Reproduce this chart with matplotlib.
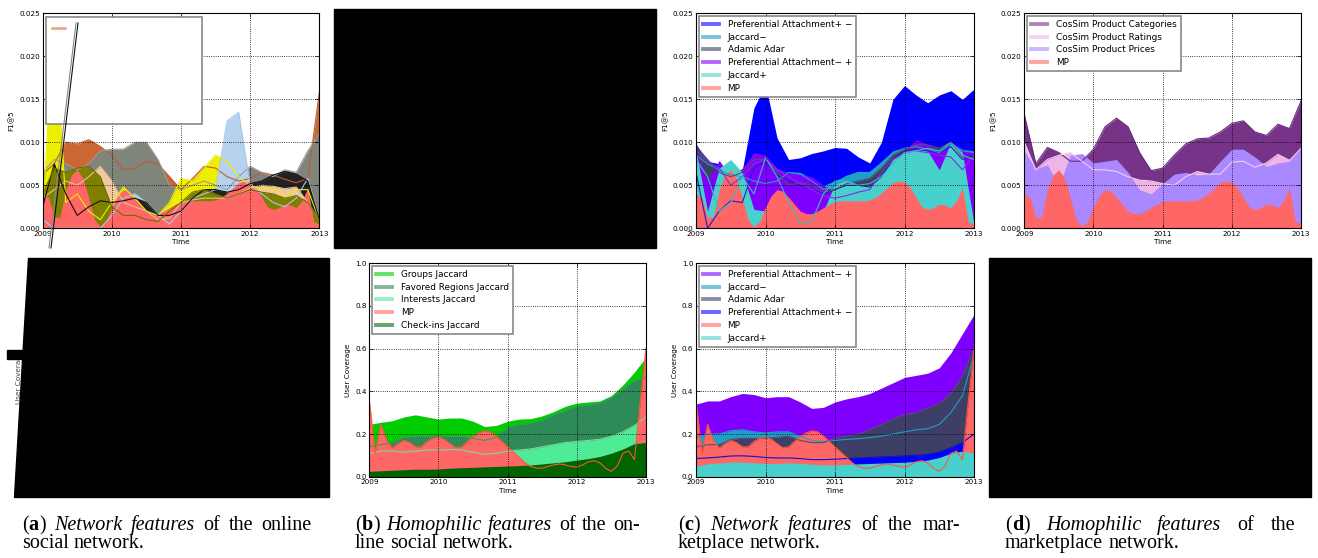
import numpy as np
import matplotlib
matplotlib.use('Agg')
import matplotlib.pyplot as plt
from matplotlib.lines import Line2D
from matplotlib.patches import Polygon, Rectangle
import matplotlib.transforms as mtransforms

# time grids: two-monthly and monthly samples 2009..2013
t2 = 2009 + np.arange(25) / 6.0
t1 = 2009 + np.arange(49) / 12.0

# MP baseline (monthly), F1@5 and user coverage
mp_f1 = [0.0040, 0.0036, 0.0013, 0.0013, 0.0045, 0.0062, 0.0068, 0.0058, 0.0035, 0.0010, 0.0002, 0.0008,
         0.0025, 0.0038, 0.0045, 0.0043, 0.0036, 0.0028, 0.0020, 0.0017, 0.0017, 0.0020, 0.0024, 0.0028,
         0.0031, 0.0032, 0.0032, 0.0032, 0.0032, 0.0032, 0.0033, 0.0036, 0.0041, 0.0047, 0.0053, 0.0055,
         0.0054, 0.0047, 0.0036, 0.0025, 0.0022, 0.0024, 0.0028, 0.0027, 0.0024, 0.0032, 0.0047, 0.0008,
         0.0005]
mp_cov = [0.36, 0.11, 0.245, 0.17, 0.135, 0.155, 0.17, 0.16, 0.14, 0.14, 0.165, 0.18,
          0.185, 0.175, 0.155, 0.135, 0.14, 0.165, 0.19, 0.205, 0.215, 0.21, 0.19, 0.165,
          0.14, 0.115, 0.09, 0.065, 0.048, 0.04, 0.04, 0.048, 0.055, 0.06, 0.055, 0.048,
          0.045, 0.055, 0.07, 0.075, 0.065, 0.04, 0.025, 0.05, 0.11, 0.12, 0.08, 0.35,
          0.60]

# (a) network features, online social network (F1@5)
a_brown = [0.0063, 0.0075, 0.0100, 0.0098, 0.0103, 0.0095, 0.0085, 0.0068, 0.0070, 0.0078, 0.0075, 0.0060,
           0.0045, 0.0058, 0.0072, 0.0070, 0.0060, 0.0055, 0.0058, 0.0065, 0.0062, 0.0057, 0.0053, 0.0058, 0.0158]
a_gray = [0.0065, 0.0080, 0.0075, 0.0068, 0.0075, 0.0090, 0.0092, 0.0092, 0.0100, 0.0100, 0.0080, 0.0050,
          0.0045, 0.0050, 0.0055, 0.0050, 0.0045, 0.0060, 0.0072, 0.0065, 0.0060, 0.0068, 0.0065, 0.0090, 0.0110]
a_yellow = [0.0020, 0.0245, 0.0030, 0.0040, 0.0020, 0.0010, 0.0030, 0.0048, 0.0035, 0.0020, 0.0015, 0.0030,
            0.0058, 0.0055, 0.0070, 0.0085, 0.0078, 0.0060, 0.0050, 0.0045, 0.0048, 0.0035, 0.0045, 0.0045, 0.0010]
a_lblue = [0.0010, 0.0000, 0.0000, 0.0000, 0.0000, 0.0000, 0.0015, 0.0035, 0.0040, 0.0030, 0.0015, 0.0005,
           0.0020, 0.0035, 0.0040, 0.0045, 0.0125, 0.0135, 0.0050, 0.0040, 0.0030, 0.0025, 0.0035, 0.0058, 0.0010]
a_black = [0.0025, 0.0075, 0.0040, 0.0015, 0.0025, 0.0032, 0.0030, 0.0032, 0.0035, 0.0030, 0.0015, 0.0015,
           0.0020, 0.0035, 0.0045, 0.0045, 0.0042, 0.0045, 0.0052, 0.0055, 0.0062, 0.0066, 0.0063, 0.0055, 0.0010]
a_peach = [0.0035, 0.0045, 0.0055, 0.0050, 0.0060, 0.0072, 0.0055, 0.0030, 0.0025, 0.0020, 0.0010, 0.0012,
           0.0030, 0.0033, 0.0035, 0.0035, 0.0035, 0.0040, 0.0047, 0.0050, 0.0049, 0.0046, 0.0048, 0.0030, 0.0010]
a_olive = [0.0040, 0.0070, 0.0065, 0.0070, 0.0072, 0.0060, 0.0025, 0.0015, 0.0015, 0.0010, 0.0008, 0.0020,
           0.0030, 0.0042, 0.0045, 0.0040, 0.0035, 0.0040, 0.0045, 0.0042, 0.0040, 0.0035, 0.0038, 0.0030, 0.0010]

# (c, top) network features, marketplace (F1@5)
c_pa_pm = [0.0098, 0.0078, 0.0075, 0.0068, 0.0068, 0.0140, 0.0167, 0.0105, 0.0080, 0.0082, 0.0087, 0.0090,
           0.0094, 0.0093, 0.0083, 0.0076, 0.0100, 0.0150, 0.0166, 0.0155, 0.0146, 0.0155, 0.0160, 0.0150, 0.0162]
c_jac_m = [0.0090, 0.0075, 0.0070, 0.0065, 0.0065, 0.0060, 0.0060, 0.0062, 0.0066, 0.0065, 0.0058, 0.0050,
           0.0055, 0.0062, 0.0066, 0.0066, 0.0078, 0.0090, 0.0094, 0.0097, 0.0095, 0.0090, 0.0100, 0.0092, 0.0090]
c_aa = [0.0095, 0.0080, 0.0065, 0.0060, 0.0065, 0.0080, 0.0080, 0.0065, 0.0050, 0.0053, 0.0050, 0.0042,
        0.0045, 0.0052, 0.0055, 0.0058, 0.0070, 0.0085, 0.0092, 0.0097, 0.0097, 0.0093, 0.0100, 0.0083, 0.0082]
c_pa_mp = [0.0090, 0.0055, 0.0079, 0.0060, 0.0070, 0.0088, 0.0085, 0.0070, 0.0065, 0.0063, 0.0060, 0.0050,
           0.0042, 0.0045, 0.0045, 0.0040, 0.0058, 0.0080, 0.0090, 0.0103, 0.0098, 0.0088, 0.0100, 0.0092, 0.0088]
c_jac_p = [0.0090, 0.0020, 0.0070, 0.0080, 0.0065, 0.0022, 0.0020, 0.0035, 0.0030, 0.0010, 0.0005, 0.0020,
           0.0052, 0.0055, 0.0050, 0.0050, 0.0060, 0.0080, 0.0088, 0.0092, 0.0090, 0.0068, 0.0100, 0.0088, 0.0005]
# mean lines drawn over the bands
c_line_pa_pm = [0.0065, 0.0000, 0.0020, 0.0032, 0.0030, 0.0070, 0.0078, 0.0062, 0.0055, 0.0050, 0.0045, 0.0040,
                0.0045, 0.0050, 0.0050, 0.0048, 0.0060, 0.0080, 0.0090, 0.0092, 0.0090, 0.0088, 0.0095, 0.0080, 0.0085]
c_line_jac_m = [0.0085, 0.0075, 0.0068, 0.0062, 0.0060, 0.0055, 0.0052, 0.0055, 0.0065, 0.0063, 0.0055, 0.0045,
                0.0050, 0.0060, 0.0065, 0.0065, 0.0075, 0.0088, 0.0093, 0.0095, 0.0092, 0.0088, 0.0098, 0.0090, 0.0088]
c_line_pa_mp = [0.0090, 0.0078, 0.0070, 0.0050, 0.0060, 0.0075, 0.0080, 0.0068, 0.0060, 0.0052, 0.0045, 0.0038,
                0.0035, 0.0038, 0.0042, 0.0045, 0.0065, 0.0080, 0.0088, 0.0090, 0.0088, 0.0085, 0.0083, 0.0068, 0.0085]
c_line_jac_p = [0.0080, 0.0060, 0.0020, 0.0030, 0.0060, 0.0040, 0.0082, 0.0060, 0.0030, 0.0005, 0.0008, 0.0040,
                0.0055, 0.0055, 0.0050, 0.0052, 0.0060, 0.0075, 0.0088, 0.0090, 0.0093, 0.0090, 0.0100, 0.0085, 0.0080]

# (d, top) homophilic features, marketplace (F1@5)
d_cat = [0.0132, 0.0075, 0.0094, 0.0088, 0.0078, 0.0078, 0.0092, 0.0118, 0.0128, 0.0118, 0.0088, 0.0067,
         0.0070, 0.0085, 0.0098, 0.0104, 0.0105, 0.0112, 0.0122, 0.0125, 0.0112, 0.0108, 0.0121, 0.0116, 0.0148]
d_rat = [0.0100, 0.0068, 0.0080, 0.0085, 0.0088, 0.0078, 0.0068, 0.0068, 0.0066, 0.0060, 0.0056, 0.0055,
         0.0052, 0.0050, 0.0060, 0.0066, 0.0063, 0.0063, 0.0077, 0.0078, 0.0071, 0.0076, 0.0086, 0.0079, 0.0093]
d_pri = [0.0090, 0.0069, 0.0074, 0.0050, 0.0085, 0.0087, 0.0076, 0.0078, 0.0080, 0.0065, 0.0045, 0.0040,
         0.0052, 0.0063, 0.0065, 0.0062, 0.0063, 0.0078, 0.0092, 0.0092, 0.0083, 0.0072, 0.0076, 0.0078, 0.0094]

# (b, bottom) homophilic features, online social network (user coverage)
b_groups = [0.245, 0.255, 0.262, 0.28, 0.29, 0.28, 0.27, 0.275, 0.275, 0.26, 0.235, 0.24,
            0.26, 0.27, 0.272, 0.285, 0.305, 0.33, 0.345, 0.35, 0.355, 0.38, 0.43, 0.49, 0.56]
b_regions = [0.14, 0.15, 0.16, 0.185, 0.19, 0.19, 0.19, 0.19, 0.19, 0.18, 0.17, 0.185,
             0.23, 0.245, 0.25, 0.265, 0.29, 0.31, 0.33, 0.335, 0.345, 0.37, 0.41, 0.45, 0.465]
b_interests = [0.11, 0.12, 0.12, 0.115, 0.12, 0.125, 0.125, 0.127, 0.125, 0.115, 0.105, 0.11,
               0.12, 0.125, 0.13, 0.14, 0.15, 0.16, 0.165, 0.17, 0.175, 0.19, 0.21, 0.24, 0.28]
b_checkins = [0.025, 0.028, 0.03, 0.033, 0.035, 0.035, 0.036, 0.04, 0.042, 0.044, 0.046, 0.048,
              0.05, 0.052, 0.055, 0.06, 0.065, 0.07, 0.078, 0.085, 0.095, 0.11, 0.13, 0.155, 0.16]

# (c, bottom) network features, marketplace (user coverage)
cc_pa_mp = [0.34, 0.355, 0.355, 0.375, 0.39, 0.385, 0.37, 0.375, 0.375, 0.35, 0.32, 0.325,
            0.35, 0.365, 0.375, 0.39, 0.415, 0.44, 0.465, 0.475, 0.485, 0.51, 0.58, 0.67, 0.76]
cc_jac_m = [0.185, 0.20, 0.20, 0.215, 0.22, 0.21, 0.205, 0.21, 0.21, 0.19, 0.17, 0.165,
            0.17, 0.175, 0.178, 0.183, 0.19, 0.20, 0.21, 0.22, 0.225, 0.245, 0.30, 0.38, 0.57]
cc_aa = [0.14, 0.15, 0.15, 0.175, 0.18, 0.18, 0.18, 0.185, 0.19, 0.17, 0.16, 0.16,
         0.18, 0.19, 0.20, 0.22, 0.245, 0.27, 0.29, 0.30, 0.32, 0.345, 0.39, 0.47, 0.60]
cc_pa_pm = [0.085, 0.088, 0.092, 0.097, 0.098, 0.095, 0.09, 0.088, 0.088, 0.085, 0.08, 0.08,
            0.082, 0.085, 0.088, 0.09, 0.093, 0.095, 0.098, 0.10, 0.105, 0.115, 0.135, 0.16, 0.20]
cc_jac_p = [0.05, 0.06, 0.065, 0.068, 0.068, 0.065, 0.062, 0.062, 0.065, 0.062, 0.058, 0.055,
            0.055, 0.058, 0.06, 0.062, 0.064, 0.066, 0.068, 0.072, 0.078, 0.09, 0.11, 0.12, 0.11]

years = [2009, 2010, 2011, 2012, 2013]
f1_ticks = [0.000, 0.005, 0.010, 0.015, 0.020, 0.025]
cov_ticks = [0.0, 0.2, 0.4, 0.6, 0.8, 1.0]

PM = 'Preferential Attachment+ \u2212'
MPl = 'Preferential Attachment\u2212 +'

plt.rcParams['font.family'] = 'DejaVu Sans'
plt.rcParams['xtick.direction'] = 'in'
plt.rcParams['ytick.direction'] = 'in'
plt.rcParams['xtick.top'] = True
plt.rcParams['ytick.right'] = True
plt.rcParams['xtick.labelsize'] = 5.2
plt.rcParams['ytick.labelsize'] = 5.2
plt.rcParams['xtick.major.size'] = 3
plt.rcParams['ytick.major.size'] = 3
plt.rcParams['xtick.major.width'] = 0.5
plt.rcParams['ytick.major.width'] = 0.5
plt.rcParams['xtick.major.pad'] = 2
plt.rcParams['ytick.major.pad'] = 2

W, H = 1318, 558
fig = plt.figure(figsize=(W / 100, H / 100), dpi=100)


def px_axes(x0, y0, x1, y1):
    return fig.add_axes([x0 / W, 1 - y1 / H, (x1 - x0) / W, (y1 - y0) / H])


def style(ax, ticks, fmt, ylabel):
    ax.set_xlim(2009, 2013)
    ax.set_ylim(ticks[0], ticks[-1])
    ax.set_xticks(years)
    ax.set_xticklabels([str(y) for y in years])
    ax.set_yticks(ticks)
    ax.set_yticklabels([fmt % v for v in ticks])
    ax.grid(True, linestyle=':', color='black', linewidth=0.6)
    ax.set_axisbelow(False)
    ax.set_xlabel('Time', fontsize=5.2, labelpad=1.5)
    ax.set_ylabel(ylabel, fontsize=5.2, labelpad=3)
    for s in ax.spines.values():
        s.set_linewidth(0.8)


def fills(ax, series):
    for x, y, c in series:
        ax.fill_between(x, 0, y, color=c, linewidth=0, zorder=1)


def lines(ax, series):
    for x, y, c in series:
        ax.plot(x, y, color=c, linewidth=0.8, zorder=2)


def legend(ax, labels, colors):
    handles = [Line2D([0], [0], color=c, lw=2.8, alpha=0.6) for c in colors]
    leg = ax.legend(handles, labels, loc='upper left', fontsize=6.4, fancybox=False,
                    framealpha=1, edgecolor='#888888', handlelength=1.8, handletextpad=1.0,
                    labelspacing=0.42, borderaxespad=0.3, borderpad=0.45)
    leg.get_frame().set_linewidth(1.2)
    leg.set_zorder(5)


# ---- (a) top left
ax = px_axes(42.7, 13.3, 319.3, 228.3)
fills(ax, [(t2, a_brown, '#cc6633'), (t2, a_gray, '#7f857b'), (t2, a_yellow, '#eeee00'),
           (t2, a_lblue, '#b6d2ee'), (t2, a_black, '#222222'), (t2, a_peach, '#f0c8a0'),
           (t2, a_olive, '#808000'), (t1, mp_f1, '#ff6666')])
lines(ax, [(t2, a_brown, '#c05a2c'), (t2, a_gray, '#9a9a9a'), (t2, a_yellow, '#eeee00'),
           (t2, a_lblue, '#a8c8e8'), (t2, a_peach, '#e8c090'), (t2, a_black, '#111111'),
           (t2, a_olive, '#6e6e00')])
style(ax, f1_ticks, '%.3f', 'F1@5')
ax.add_patch(Rectangle((0.011, 0.485), 0.564, 0.496, transform=ax.transAxes, facecolor='white',
                       edgecolor='#888888', linewidth=1.2, zorder=5))
ax.add_line(Line2D([0.032, 0.08], [0.93, 0.93], transform=ax.transAxes, color='#e8a080',
                   linewidth=1.8, zorder=6))
# stray diagonal strokes crossing the first panel
fig.add_artist(Line2D([49 / W, 76 / W], [1 - 248 / H, 1 - 23 / H], color='#888888', linewidth=0.8, zorder=7))
fig.add_artist(Line2D([51 / W, 78 / W], [1 - 248 / H, 1 - 23 / H], color='#111111', linewidth=0.8, zorder=7))

# ---- (c) top
ax = px_axes(696, 13.3, 974, 228.3)
fills(ax, [(t2, c_pa_pm, '#0000ff'), (t2, c_jac_m, '#1e9ec8'), (t2, c_aa, '#3d3f66'),
           (t2, c_pa_mp, '#8000ff'), (t2, c_jac_p, '#48d1cc'), (t1, mp_f1, '#ff6666')])
lines(ax, [(t2, c_line_pa_pm, '#2020c0'), (t2, c_line_jac_m, '#1e9ec8'), (t2, c_aa, '#50506e'),
           (t2, c_line_pa_mp, '#8a2be2'), (t2, c_line_jac_p, '#3cbcbc')])
style(ax, f1_ticks, '%.3f', 'F1@5')
legend(ax, [PM, 'Jaccard\u2212', 'Adamic Adar', MPl, 'Jaccard+', 'MP'],
       ['#0000ff', '#1e9ec8', '#3d3f66', '#8000ff', '#48d1cc', '#ff6666'])

# ---- (d) top
ax = px_axes(1024.3, 13.3, 1301, 228.3)
fills(ax, [(t2, d_cat, '#773388'), (t2, d_rat, '#eeb6e8'), (t2, d_pri, '#aa88ff'),
           (t1, mp_f1, '#ff6666')])
lines(ax, [(t2, d_cat, '#6a2a7a'), (t2, d_rat, '#f6cdf2')])
style(ax, f1_ticks, '%.3f', 'F1@5')
legend(ax, ['CosSim Product Categories', 'CosSim Product Ratings', 'CosSim Product Prices', 'MP'],
       ['#773388', '#eeb6e8', '#aa88ff', '#ff6666'])

# ---- (b) bottom
ax = px_axes(369.3, 263.3, 646, 476.7)
fills(ax, [(t2, b_groups, '#00cc00'), (t2, b_regions, '#2e8b57'), (t2, b_interests, '#50eb96'),
           (t1, mp_cov, '#ff6666'), (t2, b_checkins, '#006400')])
lines(ax, [(t2, b_regions, '#3a9a66'), (t2, b_interests, '#7ad8a0'), (t1, mp_cov, '#ff5533')])
style(ax, cov_ticks, '%.1f', 'User Coverage')
legend(ax, ['Groups Jaccard', 'Favored Regions Jaccard', 'Interests Jaccard', 'MP', 'Check-ins Jaccard'],
       ['#00cc00', '#2e8b57', '#50eb96', '#ff6666', '#006400'])

# ---- (c) bottom
ax = px_axes(696, 263.3, 974, 476.7)
fills(ax, [(t2, cc_pa_mp, '#8000ff'), (t2, cc_jac_m, '#1e9ec8'), (t2, cc_aa, '#3d3f66'),
           (t2, cc_pa_pm, '#0000ff'), (t1, mp_cov, '#ff6666'), (t2, cc_jac_p, '#48d1cc')])
lines(ax, [(t2, cc_jac_m, '#1e9ec8'), (t2, cc_aa, '#50506e'), (t2, cc_pa_pm, '#1010d0'),
           (t1, mp_cov, '#ff5533')])
style(ax, cov_ticks, '%.1f', 'User Coverage')
legend(ax, [MPl, 'Jaccard\u2212', 'Adamic Adar', PM, 'MP', 'Jaccard+'],
       ['#8000ff', '#1e9ec8', '#3d3f66', '#0000ff', '#ff6666', '#48d1cc'])

# ---- blacked-out panels
fig.text(19 / W, 1 - 377 / H, 'User Coverage', rotation=90, fontsize=5.2, color='#444444',
         ha='center', va='center')
fig.add_artist(Rectangle((334 / W, 1 - 248 / H), 322 / W, 239 / H, color='black', zorder=10))
fig.add_artist(Rectangle((989 / W, 1 - 497 / H), 322 / W, 239 / H, color='black', zorder=10))
fig.add_artist(Polygon([(28 / W, 1 - 258 / H), (329 / W, 1 - 258 / H), (329 / W, 1 - 497 / H),
                        (14 / W, 1 - 497 / H)], closed=True, color='black', zorder=10))
fig.add_artist(Rectangle((7 / W, 1 - 359 / H), 21 / W, 9 / H, color='black', zorder=10))

# ---- captions
renderer = fig.canvas.get_renderer()
cap_kw = dict(family='Liberation Serif', fontsize=14.5, va='baseline', ha='left',
              transform=mtransforms.IdentityTransform())


def cap_line(x0, x1, yb, words, justify):
    # measure each word (a word is a list of (text, style, weight) runs)
    sp = fig.text(0, 0, ' ', **cap_kw)
    space = sp.get_window_extent(renderer).width
    sp.remove()
    widths = []
    for word in words:
        w = 0
        for s, st, wt in word:
            t = fig.text(0, 0, s, style=st, weight=wt, **cap_kw)
            w += t.get_window_extent(renderer).width
            t.remove()
        widths.append(w)
    gap = space
    if justify and len(words) > 1:
        gap = (x1 - x0 - sum(widths)) / (len(words) - 1)
    x = x0
    for word, w in zip(words, widths):
        xx = x
        for s, st, wt in word:
            t = fig.text(xx, H - yb, s, style=st, weight=wt, **cap_kw)
            xx += t.get_window_extent(renderer).width
        x += w + gap


def plain(text, st='normal'):
    return [[(w, st, 'normal')] for w in text.split()]


def tag(letter):
    return [[('(', 'normal', 'normal'), (letter, 'normal', 'bold'), (')', 'normal', 'normal')]]


caps = [
    (22, 312, tag('a') + plain('Network features', 'italic') + plain('of the online'), 'social network.'),
    (355, 640, tag('b') + plain('Homophilic features', 'italic') + plain('of the on-'), 'line social network.'),
    (678, 960, tag('c') + plain('Network features', 'italic') + plain('of the mar-'), 'ketplace network.'),
    (1005, 1295, tag('d') + plain('Homophilic features', 'italic') + plain('of the'), 'marketplace network.'),
]
for x0, x1, first, second in caps:
    cap_line(x0, x1, 530, first, True)
    cap_line(x0, x1, 548, plain(second), False)

fig.savefig('out.png', dpi=100)
